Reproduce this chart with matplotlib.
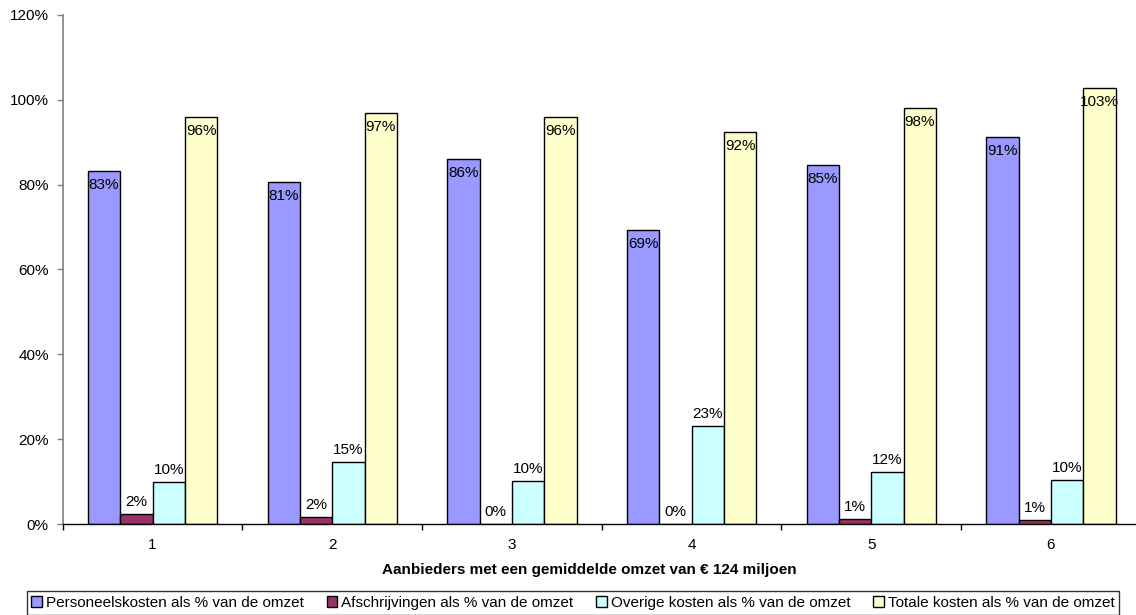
import numpy as np
import matplotlib
matplotlib.use('Agg')
import matplotlib.pyplot as plt
from matplotlib.patches import Patch

plt.rcParams['font.family'] = ['Liberation Sans', 'DejaVu Sans']

# Kostenaandelen per aanbieder (in % van de omzet)
aanbieders = ['1', '2', '3', '4', '5', '6']
personeel = [83.3, 80.7, 86.0, 69.3, 84.6, 91.3]
afschrijving = [2.4, 1.8, 0.0, 0.0, 1.3, 1.0]
overig = [9.9, 14.6, 10.2, 23.2, 12.2, 10.5]
totaal = [95.8, 96.8, 95.9, 92.4, 98.1, 102.7]

reeksen = [
    ('Personeelskosten als % van de omzet', personeel, '#9999FF', 'binnen'),
    ('Afschrijvingen als % van de omzet', afschrijving, '#993366', 'boven'),
    ('Overige kosten als % van de omzet', overig, '#CCFFFF', 'boven'),
    ('Totale kosten als % van de omzet', totaal, '#FFFFCC', 'binnen'),
]

fs = 11

fig = plt.figure(figsize=(11.36, 6.15), dpi=100)
ax = fig.add_axes([0.0552, 0.1475, 0.949, 0.8286])

x = np.arange(len(aanbieders))
w = 0.18
for i, (naam, waarden, kleur, pos) in enumerate(reeksen):
    xs = x + (i - 1.5) * w
    ax.bar(xs, waarden, width=w, color=kleur, edgecolor='black', linewidth=1.0)
    for xi, v in zip(xs, waarden):
        if pos == 'binnen':
            ax.annotate(f'{v:.0f}%', (xi, v), xytext=(0, -7), textcoords='offset pixels',
                        ha='center', va='top', fontsize=fs)
        else:
            ax.annotate(f'{v:.0f}%', (xi, v), xytext=(0, 5), textcoords='offset pixels',
                        ha='center', va='bottom', fontsize=fs)

ax.set_xlim(-0.5, len(aanbieders) - 0.5)
ax.set_ylim(0, 120)
ax.set_yticks(np.arange(0, 121, 20))
ax.set_yticklabels([f'{t}%' for t in range(0, 121, 20)], fontsize=fs)
ax.tick_params(axis='y', length=4, width=1, color='#808080', pad=6)

# groepsgrenzen als hoofdstreepjes, aanbiedernummers als labels
ax.set_xticks(np.arange(-0.5, len(aanbieders), 1.0))
ax.set_xticklabels([])
ax.set_xticks(x, minor=True)
ax.set_xticklabels(aanbieders, minor=True, fontsize=fs)
ax.tick_params(axis='x', which='major', length=4, width=1, color='black')
ax.tick_params(axis='x', which='minor', length=0, pad=10)

for s in ['top', 'right']:
    ax.spines[s].set_visible(False)
ax.spines['left'].set_color('#808080')
ax.spines['left'].set_linewidth(1.2)
ax.spines['bottom'].set_color('black')
ax.spines['bottom'].set_linewidth(1.0)

fig.text(589 / 1136, 1 - 570 / 615, 'Aanbieders met een gemiddelde omzet van € 124 miljoen',
         ha='center', va='center', fontsize=fs, fontweight='bold')

handles = [Patch(facecolor=k, edgecolor='black', label=n) for n, _, k, _ in reeksen]
leg = fig.legend(handles=handles, loc='center', bbox_to_anchor=(573 / 1136, 1 - 603 / 615),
                 ncol=4, fontsize=fs, frameon=True, fancybox=False,
                 handlelength=0.7, handleheight=0.7, handletextpad=0.25,
                 columnspacing=1.5, borderpad=0.3, borderaxespad=0)
leg.get_frame().set_edgecolor('black')
leg.get_frame().set_linewidth(1.0)

fig.savefig('out.png', dpi=100)
